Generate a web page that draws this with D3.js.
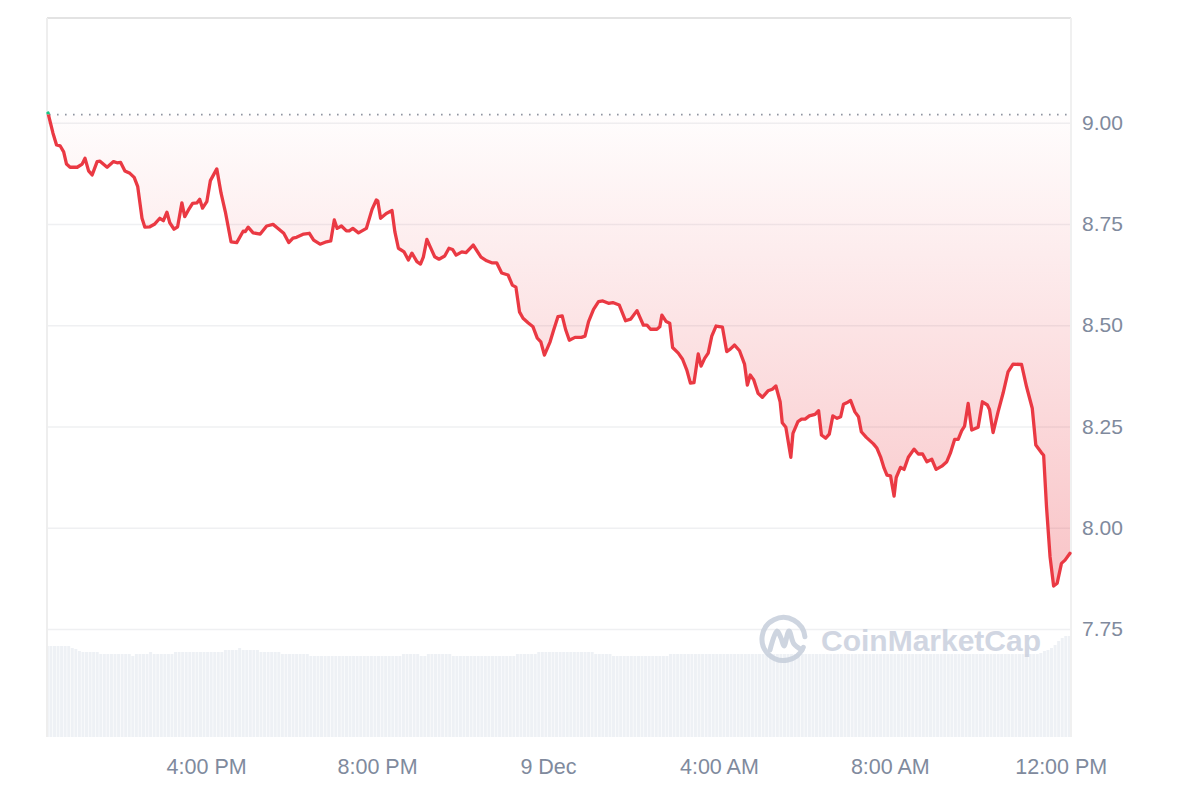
<!DOCTYPE html>
<html>
<head>
<meta charset="utf-8">
<script src="https://cdn.jsdelivr.net/npm/d3@7"></script>
<style>
  html, body { margin: 0; padding: 0; background: #fff; }
  svg { display: block; font-family: "Liberation Sans", Arial, sans-serif; }
</style>
</head>
<body>
<svg id="chart" width="1200" height="800"></svg>
<script>
// price samples: minutes after 12:00 PM on 8 Dec
var minutes = [
  18,25,30,35,40,44,49,59,66,70,75,80,87,91,101,110,115,120,126,133,
  139,144,150,154,161,168,175,180,185,189,195,200,206,210,215,221,227,231,235,241,
  246,255,261,267,275,283,292,295,299,306,316,325,334,341,349,356,362,367,377,385,
  391,400,409,415,420,424,430,437,441,446,454,465,473,479,481,485,493,501,505,510,
  518,524,529,536,541,545,550,555,561,567,575,581,586,591,599,605,615,626,634,641,
  648,655,664,670,675,680,685,692,699,705,710,715,723,728,734,740,745,750,758,767,
  772,777,784,791,797,805,811,820,829,836,845,854,859,864,873,877,880,886,891,895,
  903,909,915,920,925,931,935,940,945,950,956,965,971,976,982,989,996,1000,1004,1009,
  1015,1021,1029,1035,1040,1046,1049,1054,1061,1064,1071,1076,1081,1087,1095,1100,1104,1110,1115,1120,
  1126,1131,1135,1141,1145,1151,1156,1160,1167,1177,1182,1187,1192,1196,1201,1206,1209,1215,1220,1226,
  1234,1240,1246,1252,1259,1265,1273,1280,1285,1291,1296,1301,1305,1310,1315,1324,1330,1337,1340,1345,
  1352,1359,1366,1373,1385,1392,1400,1405,1413,1416,1420,1425,1430,1435,1441,1446,1453
];
var prices = [
  9.024,8.974,8.945,8.943,8.928,8.898,8.890,8.890,8.898,8.912,8.881,8.871,8.904,8.905,8.890,8.904,8.901,8.902,8.881,8.875,
  8.865,8.842,8.764,8.742,8.743,8.750,8.764,8.758,8.779,8.753,8.737,8.743,8.802,8.768,8.784,8.801,8.802,8.811,8.789,8.805,
  8.857,8.886,8.826,8.780,8.706,8.704,8.732,8.731,8.742,8.728,8.725,8.745,8.749,8.739,8.727,8.704,8.715,8.717,8.725,8.727,
  8.710,8.700,8.706,8.708,8.760,8.739,8.745,8.733,8.733,8.739,8.728,8.739,8.786,8.809,8.807,8.764,8.776,8.783,8.731,8.690,
  8.681,8.661,8.678,8.657,8.651,8.668,8.712,8.692,8.669,8.663,8.671,8.690,8.687,8.673,8.681,8.679,8.698,8.668,8.659,8.654,
  8.654,8.629,8.624,8.599,8.594,8.533,8.517,8.506,8.496,8.468,8.459,8.426,8.459,8.488,8.521,8.523,8.488,8.463,8.470,8.470,
  8.473,8.509,8.539,8.558,8.560,8.554,8.556,8.550,8.511,8.515,8.536,8.500,8.500,8.490,8.490,8.496,8.525,8.509,8.505,8.445,
  8.431,8.416,8.389,8.357,8.358,8.429,8.399,8.418,8.431,8.473,8.498,8.495,8.435,8.441,8.451,8.437,8.404,8.352,8.377,8.365,
  8.332,8.322,8.338,8.342,8.350,8.311,8.259,8.248,8.174,8.233,8.262,8.268,8.268,8.276,8.280,8.289,8.229,8.221,8.231,8.276,
  8.270,8.274,8.305,8.310,8.314,8.286,8.274,8.237,8.223,8.207,8.196,8.175,8.147,8.130,8.128,8.078,8.124,8.149,8.144,8.174,
  8.194,8.182,8.182,8.163,8.169,8.144,8.152,8.163,8.184,8.218,8.218,8.240,8.251,8.307,8.241,8.248,8.311,8.303,8.292,8.235,
  8.286,8.332,8.385,8.404,8.403,8.348,8.295,8.204,8.185,8.179,8.052,7.928,7.856,7.863,7.912,7.920,7.937
];
var refPrice = 9.02;   // opening price (dotted line)

// volume, 5 minute bars starting 12:15 PM
var volStart = 15;
var volStep = 5;
var volumes = [
  9.1,9.1,9.1,9.1,9.1,9.1,9.1,8.9,8.8,8.6,8.5,8.5,8.5,8.5,8.5,8.3,
  8.3,8.3,8.3,8.3,8.3,8.3,8.3,8.3,8.1,8.3,8.3,8.3,8.3,8.5,8.3,8.3,
  8.3,8.3,8.3,8.3,8.5,8.5,8.5,8.5,8.5,8.5,8.5,8.5,8.5,8.5,8.5,8.5,
  8.5,8.5,8.7,8.7,8.7,8.7,8.9,8.7,8.7,8.7,8.7,8.7,8.5,8.5,8.5,8.5,
  8.5,8.5,8.3,8.3,8.3,8.3,8.3,8.3,8.3,8.3,8.1,8.1,8.1,8.1,8.1,8.1,
  8.1,8.1,8.1,8.1,8.1,8.1,8.1,8.1,8.1,8.1,8.1,8.1,8.1,8.1,8.1,8.1,
  8.1,8.1,8.1,8.1,8.3,8.3,8.3,8.3,8.3,8.1,8.1,8.3,8.3,8.3,8.3,8.3,
  8.3,8.3,8.1,8.1,8.1,8.1,8.1,8.1,8.1,8.1,8.1,8.1,8.1,8.1,8.1,8.1,
  8.1,8.1,8.1,8.1,8.3,8.3,8.3,8.3,8.3,8.3,8.5,8.5,8.5,8.5,8.5,8.5,
  8.5,8.5,8.5,8.5,8.5,8.5,8.5,8.5,8.5,8.5,8.3,8.3,8.3,8.3,8.3,8.1,
  8.1,8.1,8.1,8.1,8.1,8.1,8.1,8.1,8.1,8.1,8.1,8.1,8.1,8.1,8.1,8.3,
  8.3,8.3,8.3,8.3,8.3,8.3,8.3,8.3,8.3,8.3,8.3,8.3,8.3,8.3,8.3,8.3,
  8.3,8.3,8.3,8.3,8.3,8.3,8.3,8.3,8.3,8.3,8.3,8.3,8.3,8.3,8.3,8.3,
  8.3,8.3,8.3,8.3,8.3,8.3,8.3,8.3,8.3,8.3,8.3,8.3,8.3,8.3,8.3,8.3,
  8.3,8.3,8.3,8.3,8.3,8.3,8.3,8.3,8.3,8.3,8.3,8.3,8.3,8.3,8.3,8.3,
  8.3,8.3,8.3,8.3,8.3,8.3,8.3,8.3,8.3,8.3,8.3,8.3,8.3,8.3,8.3,8.3,
  8.3,8.3,8.3,8.3,8.3,8.3,8.3,8.3,8.3,8.3,8.3,8.3,8.3,8.3,8.3,8.3,
  8.3,8.3,8.3,8.3,8.3,8.3,8.3,8.4,8.6,8.7,8.9,9.2,9.6,9.9,10.1,10.1
];

var priceTicks = [7.75, 8.00, 8.25, 8.50, 8.75, 9.00];
var timeTicks = [240, 480, 720, 960, 1200, 1440];   // minutes after noon, 8 Dec

var UP = '#16c784', DOWN = '#ea3943', LABEL = '#808a9d';

var plotL = 47, plotR = 1071, plotT = 18, plotB = 737;
var t0 = Date.UTC(2024, 11, 8, 12, 0);
function toDate(m) { return new Date(t0 + m * 60000); }

var points = d3.zip(minutes, prices).map(function (d) {
    return { t: toDate(d[0]), p: d[1] };
});

var svg = d3.select('#chart');

var x = d3.scaleUtc()
    .domain([toDate(minutes[0]), toDate(minutes[minutes.length - 1])])
    .range([plotL + 1, plotR - 1]);
var y = d3.scaleLinear()
    .domain([7.4833, 9.2585])
    .range([plotB, plotT]);
var v = d3.scaleLinear()
    .domain([0, d3.max(volumes)])
    .range([plotB, plotB - 101]);

var defs = svg.append('defs');
defs.append('clipPath').attr('id', 'plot')
    .append('rect').attr('x', plotL).attr('y', plotT)
    .attr('width', plotR - plotL).attr('height', plotB - plotT);
defs.append('clipPath').attr('id', 'above')
    .append('rect').attr('x', 0).attr('y', 0)
    .attr('width', 1200).attr('height', y(refPrice));
defs.append('clipPath').attr('id', 'below')
    .append('rect').attr('x', 0).attr('y', y(refPrice))
    .attr('width', 1200).attr('height', 800 - y(refPrice));

var grad = defs.append('linearGradient').attr('id', 'fallFill')
    .attr('gradientUnits', 'userSpaceOnUse')
    .attr('x1', 0).attr('x2', 0)
    .attr('y1', y(refPrice)).attr('y2', y(d3.min(prices)));
grad.append('stop').attr('offset', 0).attr('stop-color', DOWN).attr('stop-opacity', 0.01);
grad.append('stop').attr('offset', 1).attr('stop-color', DOWN).attr('stop-opacity', 0.3);

// volume bars
var bw = x(toDate(volStep)) - x(toDate(0));
svg.append('g').attr('clip-path', 'url(#plot)')
    .selectAll('rect')
    .data(volumes)
    .enter()
    .append('rect')
    .attr('x', function (d, i) { return x(toDate(volStart + i * volStep)); })
    .attr('y', function (d) { return v(d); })
    .attr('width', bw - 0.6)
    .attr('height', function (d) { return plotB - v(d); })
    .attr('fill', '#eef1f5');

// grid
svg.append('g')
    .attr('transform', 'translate(' + plotL + ',0)')
    .call(d3.axisRight(y).tickValues(priceTicks).tickSize(plotR - plotL).tickFormat(''))
    .call(function (g) { g.select('.domain').remove(); })
    .selectAll('line').attr('stroke', '#eff0f2').attr('stroke-width', 1.5);

// frame
var frame = svg.append('g').attr('fill', 'none');
frame.append('line').attr('x1', plotL).attr('x2', plotR).attr('y1', plotT).attr('y2', plotT)
    .attr('stroke', '#e3e3e3').attr('stroke-width', 2);
frame.append('line').attr('x1', plotL).attr('x2', plotL).attr('y1', plotT).attr('y2', plotB)
    .attr('stroke', '#eeeeee').attr('stroke-width', 2);
frame.append('line').attr('x1', plotR).attr('x2', plotR).attr('y1', plotT).attr('y2', plotB)
    .attr('stroke', '#f0f0f0').attr('stroke-width', 2);

// watermark
var wm = svg.append('g').attr('opacity', 0.85);
var logo = d3.path();
logo.arc(783.5, 639, 21.5, 0.4, 2 * Math.PI - 0.1, false);
wm.append('path').attr('d', logo.toString())
    .attr('fill', 'none').attr('stroke', '#c6cedb').attr('stroke-width', 5).attr('stroke-linecap', 'round');
wm.append('path')
    .attr('d', d3.line().curve(d3.curveCatmullRom)([[770, 650], [777, 631], [781, 638], [784, 646], [789, 631], [794, 644], [802, 650]]))
    .attr('fill', 'none').attr('stroke', '#c6cedb').attr('stroke-width', 5)
    .attr('stroke-linecap', 'round').attr('stroke-linejoin', 'round');
wm.append('text')
    .attr('x', 821).attr('y', 651)
    .attr('font-size', 30).attr('font-weight', 700)
    .attr('fill', '#c9d0dd')
    .text('CoinMarketCap');

// area between price and opening price
var area = d3.area()
    .x(function (d) { return x(d.t); })
    .y0(y(refPrice))
    .y1(function (d) { return y(d.p); });
svg.append('path').datum(points)
    .attr('clip-path', 'url(#below)')
    .attr('d', area)
    .attr('fill', 'url(#fallFill)');

// opening price dotted line
svg.append('line')
    .attr('x1', plotL + 2).attr('x2', plotR - 2)
    .attr('y1', y(refPrice)).attr('y2', y(refPrice))
    .attr('stroke', '#8f95a1').attr('stroke-width', 1.6)
    .attr('stroke-dasharray', '1.6,6.4');

// price line, green above the open and red below
var line = d3.line()
    .x(function (d) { return x(d.t); })
    .y(function (d) { return y(d.p); });
[['above', UP], ['below', DOWN]].forEach(function (s) {
    svg.append('g').attr('clip-path', 'url(#' + s[0] + ')')
        .append('path').datum(points)
        .attr('d', line)
        .attr('fill', 'none')
        .attr('stroke', s[1])
        .attr('stroke-width', 3.3)
        .attr('stroke-linejoin', 'round')
        .attr('stroke-linecap', 'round');
});

// y axis labels
svg.append('g')
    .attr('transform', 'translate(' + plotR + ',0)')
    .call(d3.axisRight(y).tickValues(priceTicks).tickSize(0).tickPadding(11).tickFormat(d3.format('.2f')))
    .call(function (g) { g.select('.domain').remove(); })
    .selectAll('text')
    .attr('font-family', '"Liberation Sans", Arial, sans-serif')
    .attr('font-size', 21)
    .attr('fill', LABEL);

// x axis labels
var fmtTime = d3.utcFormat('%-I:%M %p');
var fmtDay = d3.utcFormat('%-d %b');
svg.append('g')
    .attr('transform', 'translate(0,' + plotB + ')')
    .call(d3.axisBottom(x)
        .tickValues(timeTicks.map(toDate))
        .tickSize(0).tickPadding(22)
        .tickFormat(function (d) { return d.getUTCHours() === 0 ? fmtDay(d) : fmtTime(d); }))
    .call(function (g) { g.select('.domain').remove(); })
    .selectAll('text')
    .attr('font-family', '"Liberation Sans", Arial, sans-serif')
    .attr('font-size', 21.5)
    .attr('fill', LABEL);
</script>
</body>
</html>
